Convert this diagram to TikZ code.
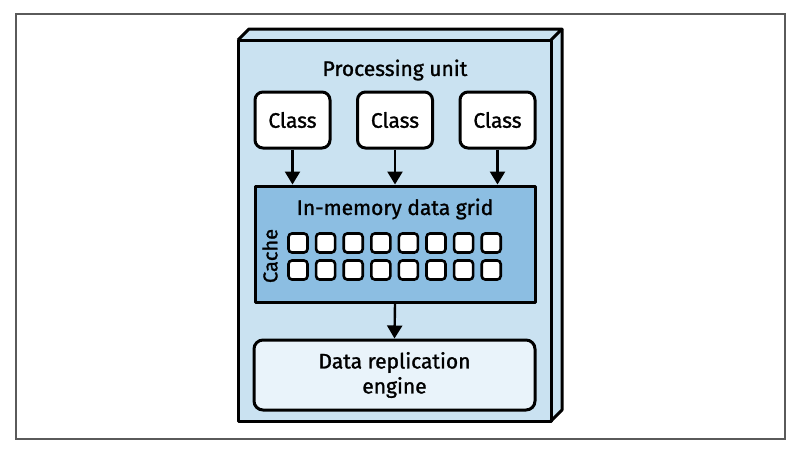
\documentclass[tikz,border=0pt]{standalone}
\usepackage{fontspec}
\setmainfont{Fira Sans}[FakeBold=1.3]
\usetikzlibrary{arrows.meta}
\definecolor{unitblue}{RGB}{202,226,241}
\definecolor{gridblue}{RGB}{140,190,226}
\definecolor{engblue}{RGB}{233,243,250}
\definecolor{framegray}{RGB}{90,90,90}
\tikzset{
  boxline/.style={line width=3pt, line join=round},
  classbox/.style={boxline, draw=black, fill=white, rounded corners=8pt, minimum width=75pt, minimum height=56pt, inner sep=0pt, font=\fontsize{21}{25}\selectfont},
  cell/.style={draw=black, line width=2.6pt, fill=white, rounded corners=3.5pt, minimum width=19pt, minimum height=19pt, inner sep=0pt},
  flow/.style={line width=2.4pt, -{Triangle[width=15pt,length=13pt]}},
  lbl/.style={inner sep=0pt, font=\fontsize{21}{25}\selectfont}
}
\begin{document}
\begin{tikzpicture}[x=1pt,y=-1pt]
\useasboundingbox (0,0) rectangle (800,451);
\draw[framegray, line width=1.4pt] (16,14) rectangle (785,439);
% 3D processing unit
\fill[unitblue] (238,40) -- (249,29) -- (562,29) -- (562,410) -- (551,421) -- (238,421) -- cycle;
\draw[boxline] (238,40) rectangle (551,421);
\draw[boxline] (238,40) -- (249,29) -- (562,29) -- (551,40);
\draw[boxline] (562,29) -- (562,410) -- (551,421);
\node[lbl] (pu) at (395,70) {Processing unit};
\node[classbox] (c1) at (292.5,120) {Class};
\node[classbox] (c2) at (395,120) {Class};
\node[classbox] (c3) at (497.5,120) {Class};
\node[boxline, draw=black, fill=gridblue, minimum width=280pt, minimum height=116pt, inner sep=0pt] (grid) at (395,244) {};
\node[lbl] (gt) at (395,209) {In-memory data grid};
\node[lbl, rotate=90, font=\fontsize{20}{24}\selectfont] (cache) at (270,256) {Cache};
\foreach \i in {0,...,7} {
  \node[cell] (ca\i) at (298+27.6*\i,243) {};
  \node[cell] (cb\i) at (298+27.6*\i,270) {};
}
\node[boxline, draw=black, fill=engblue, rounded corners=9pt, minimum width=281pt, minimum height=70pt, inner sep=0pt, align=center, font=\fontsize{21}{25}\selectfont] (eng) at (394.5,375) {Data replication\\engine};
\draw[flow] (c1.south) -- (c1.south |- grid.north);
\draw[flow] (c2.south) -- (c2.south |- grid.north);
\draw[flow] (c3.south) -- (c3.south |- grid.north);
\draw[flow] (grid.south) -- (eng.north);
\end{tikzpicture}
\end{document}
